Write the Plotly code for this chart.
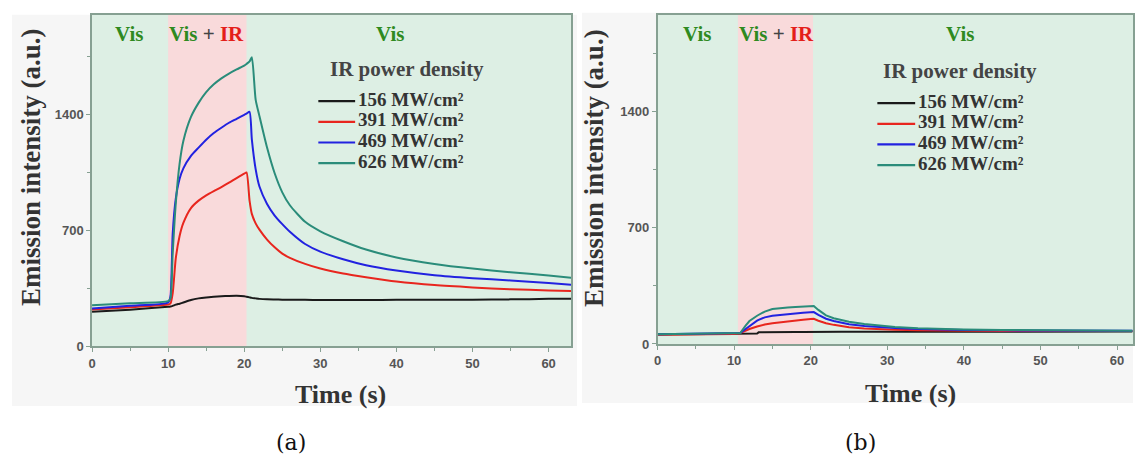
import plotly.graph_objects as go

# ---------------- data ----------------
series_names = ["156 MW/cm²", "391 MW/cm²", "469 MW/cm²", "626 MW/cm²"]
series_colors = ["#1a1a1a", "#e8261e", "#2222e0", "#2a8c7a"]

# panel (a)
time_a = [0, 5, 10, 10.3, 10.6, 11, 11.5, 12, 13, 14, 15, 16, 17, 18, 19, 20, 20.3, 20.7,
          21, 21.5, 22, 23, 24, 25, 26, 28, 30, 33, 36, 40, 45, 50, 55, 60, 63]
a_156 = [209, 222, 239, 241, 245, 252, 258, 265, 280, 290, 296, 300, 303, 305, 306, 303, 300, 296,
         293, 290, 287, 284, 283, 282, 281, 281, 280, 280, 280, 281, 281, 282, 284, 287, 288]
a_391 = [223, 237, 253, 258, 320, 530, 665, 745, 835, 880, 912, 938, 962, 988, 1016, 1043, 1050, 880,
         800, 743, 705, 645, 598, 560, 535, 498, 470, 440, 418, 392, 370, 356, 345, 338, 335]
a_469 = [229, 245, 265, 300, 680, 890, 1010, 1075, 1150, 1200, 1248, 1288, 1320, 1350, 1374, 1398, 1405, 1416,
         1250, 1070, 965, 860, 790, 738, 692, 618, 572, 526, 490, 458, 430, 412, 398, 383, 372]
a_626 = [249, 260, 273, 290, 560, 860, 1100, 1240, 1385, 1470, 1535, 1582, 1618, 1647, 1672, 1695, 1705, 1720,
         1745, 1490, 1390, 1200, 1045, 930, 852, 752, 695, 635, 585, 537, 498, 470, 448, 428, 415]

# panel (b)
time_b = [0, 5, 10, 10.8, 11.5, 12, 13, 13.2, 14, 15, 16, 17, 18, 19, 20, 20.4, 21, 22, 23, 24, 25,
          27, 29, 31, 34, 37, 40, 45, 50, 55, 60, 62]
b_156 = [57, 58, 60, 62, 63, 63, 63, 70, 71, 71, 72, 72, 72, 72, 73, 73, 73, 73, 73, 73, 73,
         73, 73, 73, 73, 74, 74, 74, 74, 75, 75, 75]
b_391 = [55, 57, 60, 66, 80, 90, 105, 108, 117, 125, 131, 136, 141, 146, 150, 151, 140, 125, 115, 107, 101,
         93, 88, 85, 82, 80, 79, 78, 78, 78, 78, 78]
b_469 = [58, 60, 62, 66, 90, 108, 140, 145, 160, 170, 176, 180, 184, 188, 191, 192, 175, 152, 138, 127, 119,
         108, 101, 96, 90, 86, 84, 82, 81, 80, 80, 80]
b_626 = [58, 60, 63, 66, 110, 138, 170, 175, 195, 210, 217, 220, 222, 224, 226, 228, 205, 172, 155, 143, 134,
         120, 110, 102, 94, 90, 87, 84, 82, 81, 80, 80]

ir_window_a = [10.0, 20.3]
ir_window_b = [10.5, 20.3]
y_ticks = [0, 700, 1400]
x_ticks = [0, 10, 20, 30, 40, 50, 60]

# ---------------- figure ----------------
W, H = 1135, 464
def px(x):
    return x / W
def py(y):
    return 1 - y / H

GREEN = "#2f8a1f"
RED = "#e41e1a"
AXC = "#86a092"
SERIF = "Liberation Serif"
PLOTBG = "#ddefe4"

fig = go.Figure()
for vals, name, col in zip([a_156, a_391, a_469, a_626], series_names, series_colors):
    fig.add_trace(go.Scatter(x=time_a, y=vals, mode="lines", name=name,
                             line=dict(color=col, width=2, shape="spline", smoothing=0.6),
                             xaxis="x", yaxis="y", showlegend=False))
for vals, name, col in zip([b_156, b_391, b_469, b_626], series_names, series_colors):
    fig.add_trace(go.Scatter(x=time_b, y=vals, mode="lines", name=name,
                             line=dict(color=col, width=2), xaxis="x2", yaxis="y2",
                             showlegend=False))

axis_common = dict(showline=True, linecolor=AXC, linewidth=1.5, mirror=True,
                   ticks="outside", ticklen=4, tickcolor=AXC, showgrid=False, zeroline=False,
                   tickfont=dict(family="Liberation Sans", size=13, color="#555"))
xt = dict(tickvals=x_ticks, ticktext=[f"<b>{v}</b>" for v in x_ticks],
          minor=dict(dtick=5, ticks="outside", ticklen=3, tickcolor=AXC))
yt = dict(tickvals=y_ticks, ticktext=[f"<b>{v}</b>" for v in y_ticks],
          minor=dict(dtick=350, ticks="outside", ticklen=3, tickcolor=AXC))

fig.update_layout(
    width=W, height=H, margin=dict(l=0, r=0, t=0, b=0),
    paper_bgcolor="white", plot_bgcolor=PLOTBG,
    xaxis=dict(domain=[px(88.5), px(570)], range=[0, 62.94], anchor="y", **xt, **axis_common),
    yaxis=dict(domain=[py(352.5), py(15)], range=[0, 2002], anchor="x", **yt, **axis_common),
    xaxis2=dict(domain=[px(657), 1.0], range=[0, 62.08], anchor="y2", **xt, **axis_common),
    yaxis2=dict(domain=[py(350), py(15)], range=[0, 1982], anchor="x2", **yt, **axis_common),
)

shapes = []
# light gray panel backgrounds
shapes.append(dict(type="rect", xref="paper", yref="paper", x0=px(8), x1=px(576), y0=py(413), y1=py(15),
                   fillcolor="#f6f6f6", line=dict(width=0), layer="below"))
shapes.append(dict(type="rect", xref="paper", yref="paper", x0=px(581), x1=1.0, y0=py(410), y1=py(13),
                   fillcolor="#f6f6f6", line=dict(width=0), layer="below"))
# plot-area fills
shapes.append(dict(type="rect", xref="x domain", yref="y domain", x0=0, x1=1, y0=0, y1=1,
                   fillcolor=PLOTBG, line=dict(width=0), layer="below"))
shapes.append(dict(type="rect", xref="x2 domain", yref="y2 domain", x0=0, x1=1, y0=0, y1=1,
                   fillcolor=PLOTBG, line=dict(width=0), layer="below"))
# IR windows
shapes.append(dict(type="rect", xref="x", yref="y domain", x0=ir_window_a[0], x1=ir_window_a[1], y0=0, y1=1,
                   fillcolor="#f9dadb", line=dict(width=0), layer="below"))
shapes.append(dict(type="rect", xref="x2", yref="y2 domain", x0=ir_window_b[0], x1=ir_window_b[1], y0=0, y1=1,
                   fillcolor="#f9dadb", line=dict(width=0), layer="below"))

annotations = []
def ann(text, x, y, size, color="#333", family=SERIF, weight="bold", angle=0, xanchor="center", xref="paper"):
    annotations.append(dict(text=text, x=x, y=y, xref=xref, yref="paper", showarrow=False,
                            xanchor=xanchor, yanchor="middle", textangle=angle, borderpad=0,
                            font=dict(family=family, size=size, color=color, weight=weight)))

visir = f"<span style='color:{GREEN}'>Vis</span> + <span style='color:{RED}'>IR</span>"
# panel (a) labels
ann("Vis", 4.8, py(35), 21, GREEN, xref="x")
ann(visir, 15.1, py(35), 21, "#444", xref="x")
ann("Vis", 39.2, py(35), 21, GREEN, xref="x")
# panel (b) labels
ann("Vis", 5.1, py(35), 21, GREEN, xref="x2")
ann(visir, 15.5, py(35), 21, "#444", xref="x2")
ann("Vis", 39.5, py(35), 21, GREEN, xref="x2")

# axis titles
ann("Emission intensity (a.u.)", px(27), py(170), 27, "#333", angle=-90)
ann("Emission intensity (a.u.)", px(593), py(171), 27, "#333", angle=-90)
ann("Time (s)", px(338), py(401), 26, "#333")
ann("Time (s)", px(911), py(400), 26, "#333")

# captions
ann("(a)", px(289), py(450), 22, "#111", family="DejaVu Serif", weight="normal")
ann("(b)", px(861), py(450), 22, "#111", family="DejaVu Serif", weight="normal")

# legends (drawn manually)
def legend(title_x, title_y, line_x0, line_x1, text_x, rows):
    ann("IR power density", px(title_x), py(title_y), 21, "#444")
    for name, col, ry in zip(series_names, series_colors, rows):
        shapes.append(dict(type="line", xref="paper", yref="paper", x0=px(line_x0), x1=px(line_x1),
                           y0=py(ry + 2), y1=py(ry + 2), line=dict(color=col, width=2.2)))
        ann(name, px(text_x), py(ry), 19, "#333", xanchor="left")

legend(405, 70, 316, 353, 355, [101, 122, 143, 164])
legend(961, 72, 878, 916, 918, [103, 124, 145, 166])

fig.update_layout(shapes=shapes, annotations=annotations)
fig.write_html("out.html", config={"displayModeBar": False},
               post_script="document.body.style.margin='0';document.body.style.padding='0';"
                           "document.documentElement.style.overflow='hidden';")
